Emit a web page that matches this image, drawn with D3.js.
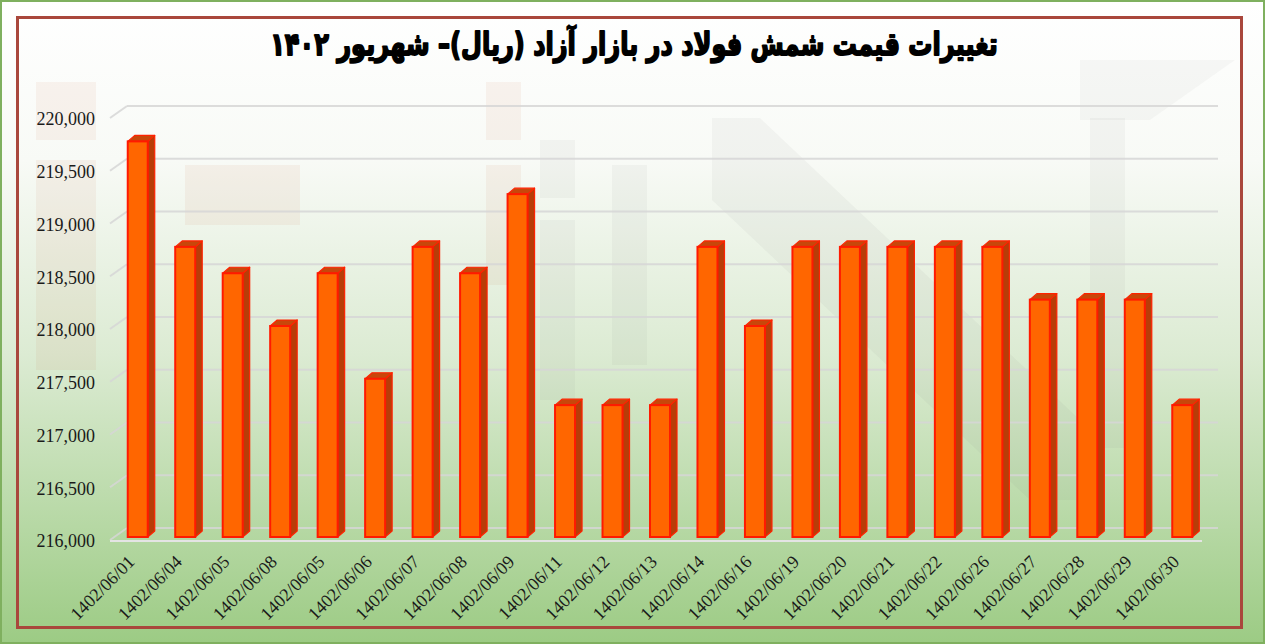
<!DOCTYPE html>
<html><head><meta charset="utf-8">
<script src="https://cdn.jsdelivr.net/npm/d3@7"></script>
<style>html,body{margin:0;padding:0;background:#fff;}svg{display:block;}</style>
</head><body>
<svg id="c" width="1265" height="644"></svg>
<script>
const titleText = "تغییرات قیمت شمش فولاد در بازار آزاد (ریال)– شهریور ۱۴۰۲";
const categories = ["1402/06/01","1402/06/04","1402/06/05","1402/06/08","1402/06/05","1402/06/06","1402/06/07","1402/06/08","1402/06/09","1402/06/11","1402/06/12","1402/06/13","1402/06/14","1402/06/16","1402/06/19","1402/06/20","1402/06/21","1402/06/22","1402/06/26","1402/06/27","1402/06/28","1402/06/29","1402/06/30"];
const prices = [219750,218750,218500,218000,218500,217500,218750,218500,219250,217250,217250,217250,218750,218000,218750,218750,218750,218750,218750,218250,218250,218250,217250];
const yTicks = [216000,216500,217000,217500,218000,218500,219000,219500,220000];

const svg = d3.select("#c");
const defs = svg.append("defs");
const g1 = defs.append("linearGradient").attr("id","bg").attr("x1",0).attr("y1",0).attr("x2",0).attr("y2",1);
g1.append("stop").attr("offset","0").attr("stop-color","#ffffff");
g1.append("stop").attr("offset","0.25").attr("stop-color","#f8faf6");
g1.append("stop").attr("offset","0.55").attr("stop-color","#dcebd3");
g1.append("stop").attr("offset","1").attr("stop-color","#9ccb84");

svg.append("rect").attr("x",0).attr("y",0).attr("width",1265).attr("height",644).attr("fill","url(#bg)");
svg.append("rect").attr("x",1).attr("y",1).attr("width",1263).attr("height",642).attr("fill","none").attr("stroke","#7fb05f").attr("stroke-width",2);

// faint watermark
const wm = svg.append("g");
const red = (x,y,w,h) => wm.append("rect").attr("x",x).attr("y",y).attr("width",w).attr("height",h).attr("fill","#c0603a").attr("opacity",0.07);
const gry = (x,y,w,h) => wm.append("rect").attr("x",x).attr("y",y).attr("width",w).attr("height",h).attr("fill","#707070").attr("opacity",0.06);
red(36,82,60,58); red(36,160,60,210); red(486,82,35,58); red(486,165,35,120); red(185,165,115,60);
gry(540,140,35,58); gry(540,220,35,180); gry(612,165,35,200); gry(1090,118,35,330);
wm.append("path").attr("d","M712,118 L760,118 L1080,420 L1080,500 L1030,500 L712,200 Z").attr("fill","#707070").attr("opacity",0.06);
wm.append("path").attr("d","M1080,60 L1235,60 L1150,120 L1080,120 Z").attr("fill","#707070").attr("opacity",0.05);

// chart border
svg.append("rect").attr("x",17.5).attr("y",17.5).attr("width",1224).attr("height",610).attr("fill","none").attr("stroke","#a9473c").attr("stroke-width",3);

// scales
const yWall = d3.scaleLinear().domain([216000,220000]).range([528,106]);
const yBar = d3.scaleLinear().domain([216000,220000]).range([537,115]);
const x = d3.scaleBand().domain(d3.range(categories.length)).range([114,1206]);
const dxW = 17, dyW = 12;

// gridlines on back wall
const grid = svg.append("g");
yTicks.forEach(v => {
  const y = yWall(v);
  grid.append("line").attr("x1",127).attr("x2",1218).attr("y1",y).attr("y2",y).attr("stroke","#d6d6d6").attr("stroke-width",2).attr("stroke-opacity",0.85);
  grid.append("line").attr("x1",110).attr("x2",127).attr("y1",y+dyW).attr("y2",y).attr("stroke","#d6d6d6").attr("stroke-width",2).attr("stroke-opacity",0.85);
});
// floor front edge
grid.append("line").attr("x1",110).attr("x2",1202).attr("y1",yWall(216000)+dyW+1).attr("y2",yWall(216000)+dyW+1).attr("stroke","#e4e4e4").attr("stroke-width",2);

// y axis labels
const yAxis = d3.axisLeft(yWall).tickValues(yTicks).tickFormat(d3.format(",")).tickSize(0).tickPadding(0);
const ya = svg.append("g").attr("transform","translate(95,13)").call(yAxis);
ya.select(".domain").remove();
ya.selectAll("text").attr("font-family","'Liberation Serif', serif").attr("font-size",18).attr("fill","#1a1a1a");

// bars
const bw = 20, bdx = 7, bdy = 6;
const bars = svg.append("g").selectAll("g").data(prices).join("g");
bars.each(function(v,i){
  const gg = d3.select(this);
  const cx = x(i) + x.bandwidth()/2;
  const x0 = cx - bw/2, x1 = cx + bw/2;
  const yt = yBar(v), yb = yBar(216000);
  gg.append("path").attr("d",`M${x1},${yt} L${x1+bdx},${yt-bdy} L${x1+bdx},${yb-bdy} L${x1},${yb} Z`)
    .attr("fill","#b83d08").attr("stroke","#ff2200").attr("stroke-width",1.2).attr("stroke-linejoin","round");
  gg.append("path").attr("d",`M${x0},${yt} L${x0+bdx},${yt-bdy} L${x1+bdx},${yt-bdy} L${x1},${yt} Z`)
    .attr("fill","#c8470a").attr("stroke","#ff2200").attr("stroke-width",1.2).attr("stroke-linejoin","round");
  gg.append("rect").attr("x",x0).attr("y",yt).attr("width",bw).attr("height",yb-yt)
    .attr("fill","#ff6600").attr("stroke","#ff1a00").attr("stroke-width",2);
});

// x labels
const xl = svg.append("g");
categories.forEach((c,i) => {
  const cx = x(i) + x.bandwidth()/2;
  xl.append("text").attr("transform",`translate(${cx-2},${563}) rotate(-45)`)
    .attr("text-anchor","end").attr("font-family","'Liberation Serif', serif").attr("font-size",18).attr("fill","#1a1a1a").text(c);
});

// title
const t = svg.append("text").attr("x",0).attr("y",0).attr("text-anchor","middle").attr("direction","rtl")
  .attr("font-family","'DejaVu Sans', sans-serif").attr("font-weight","bold").attr("font-size",30)
  .attr("fill","#000").attr("stroke","#000").attr("stroke-width",1.4).attr("stroke-linejoin","round")
  .attr("transform","translate(634,55) scale(1,1.3)").text(titleText);
const w = t.node().getComputedTextLength();
t.attr("font-size", 30 * 728 / w);
</script>
</body></html>
